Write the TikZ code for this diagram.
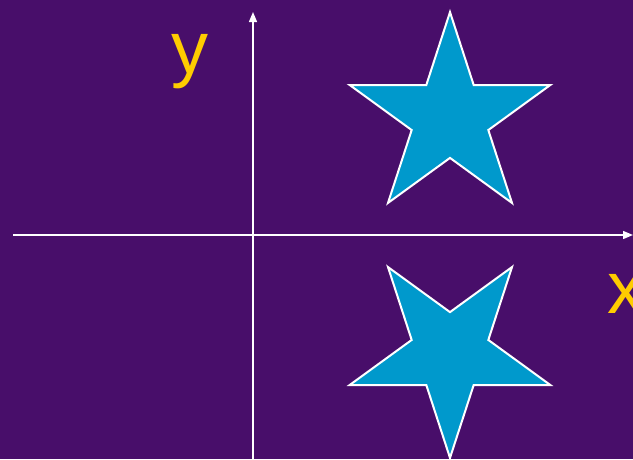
\documentclass[tikz,border=0pt]{standalone}
\usepackage{fontspec}
\setmainfont{Liberation Sans}
\usetikzlibrary{arrows.meta, shapes.geometric}
\definecolor{bgpurple}{RGB}{72,14,106}
\definecolor{starblue}{RGB}{0,153,204}
\definecolor{labelyellow}{RGB}{255,204,0}
\tikzset{
  axis/.style={-{Triangle[length=10pt,width=8pt]}, white, line width=1.4pt},
  bigstar/.style={star, star points=5, star point ratio=2.618, minimum size=211pt,
    inner sep=0pt, outer sep=0pt, draw=white, line width=2pt, fill=starblue},
  axislabel/.style={text=labelyellow, font=\fontsize{74}{74}\selectfont, inner sep=0pt, anchor=base}
}
\begin{document}
\begin{tikzpicture}[x=1pt, y=-1pt]
    \fill[bgpurple] (0,0) rectangle (633,459);
    \clip (0,0) rectangle (633,459);

    % axes
    \coordinate (xstart) at (13,235);
    \coordinate (xend) at (633,235);
    \coordinate (ystart) at (253,459);
    \coordinate (yend) at (253,12);
    \draw[axis] (xstart) -- (xend);
    \draw[axis] (ystart) -- (yend);

    \node[axislabel] (ylabel) at (190,73) {y};
    \node[axislabel] (xlabel) at (626,313) {x};

    % star and its mirror image
    \node[bigstar] (upstar) at (450,117.6) {};
    \node[bigstar, shape border rotate=180] (downstar) at (450,352.4) {};
\end{tikzpicture}
\end{document}
